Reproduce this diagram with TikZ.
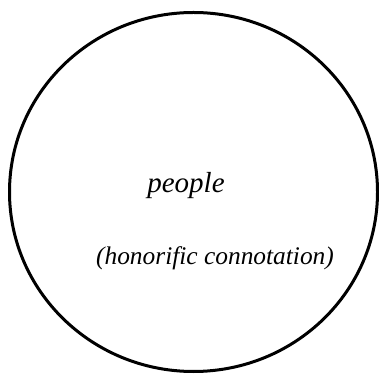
\documentclass[tikz,border=0pt]{standalone}
\usepackage{fontspec}
\setmainfont{Liberation Serif}
\begin{document}
\begin{tikzpicture}[x=1pt, y=1pt]
    \tikzset{label text/.style={font=\itshape, inner sep=0pt, anchor=base}}
    \useasboundingbox (0,0) rectangle (379,374);

    % Cercle
    \draw[line width=3pt] (193.5,182) ellipse [x radius=184, y radius=179.5];

    % Textes
    \node[label text, font=\itshape\fontsize{29}{32}\selectfont] (people) at (186,181) {people};
    \node[label text, font=\itshape\fontsize{25.4}{29}\selectfont] (conno) at (215,109) {(honorific connotation)};
\end{tikzpicture}
\end{document}
